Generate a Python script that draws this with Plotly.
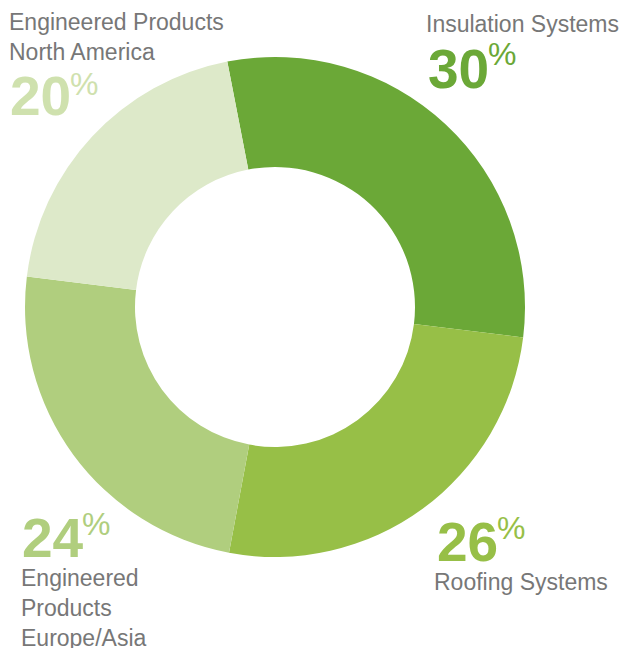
import plotly.graph_objects as go

# page body has an 8px default margin; build a figure that fills the rest
OFF = 8
W, H = 630 - OFF, 648 - OFF

segments = ["Insulation Systems", "Roofing Systems", "Engineered Products Europe/Asia", "Engineered Products North America"]
shares = [30, 26, 24, 20]
slice_colors = ["#6ba837", "#97bf47", "#b0ce7e", "#dde9c9"]
pct_colors = ["#6ba837", "#97bf47", "#b0ce7e", "#cfe1ae"]
label_texts = ["Insulation Systems", "Roofing Systems", "Engineered<br>Products<br>Europe/Asia", "Engineered Products<br>North America"]


def px(x):
    return (x - OFF) / W


def py(y):
    return 1 - (y - OFF) / H


fig = go.Figure()
fig.add_trace(go.Pie(
    labels=segments,
    values=shares,
    sort=False,
    direction="clockwise",
    rotation=-11,
    hole=0.56,
    textinfo="none",
    hoverinfo="label+percent",
    marker=dict(colors=slice_colors, line=dict(width=0)),
    domain=dict(x=[px(25), px(525)], y=[py(557), py(57)]),
    showlegend=False,
))

FONT = "Liberation Sans, Arial, sans-serif"
GRAY = "#777777"

# (label box left, label box top, number left, number top, pct left, pct top)
pos = [
    (424, 9, 426, 36, 486, 34),        # Insulation
    (432, 567, 435, 509, 495, 508),    # Roofing
    (19, 563, 20, 505, 80, 504),       # Europe/Asia
    (7, 7, 8, 62.5, 68, 64),           # North America
]

annotations = []
for i in range(len(segments)):
    lx, ly, nx, ny, cx, cy = pos[i]
    annotations.append(dict(
        x=px(lx), y=py(ly), xref="paper", yref="paper", xanchor="left", yanchor="top",
        text=label_texts[i], showarrow=False, align="left",
        font=dict(family=FONT, size=23, color=GRAY),
    ))
    annotations.append(dict(
        x=px(nx), y=py(ny), xref="paper", yref="paper", xanchor="left", yanchor="top",
        text="<b>%d</b>" % shares[i], showarrow=False, align="left",
        font=dict(family=FONT, size=55, color=pct_colors[i]),
    ))
    annotations.append(dict(
        x=px(cx), y=py(cy), xref="paper", yref="paper", xanchor="left", yanchor="top",
        text="%", showarrow=False, align="left",
        font=dict(family=FONT, size=32, color=pct_colors[i]),
    ))

fig.update_layout(
    width=W, height=H,
    margin=dict(l=0, r=0, t=0, b=0),
    paper_bgcolor="white",
    plot_bgcolor="white",
    annotations=annotations,
)

fig.write_html("out.html")
